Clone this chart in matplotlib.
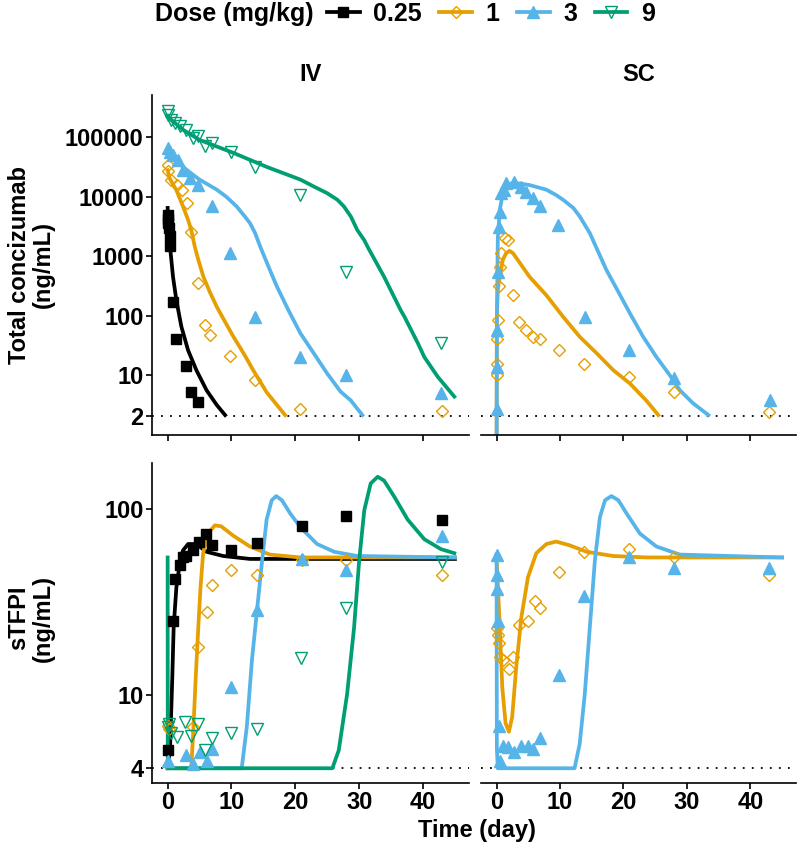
import matplotlib
matplotlib.use("Agg")
import matplotlib.pyplot as plt
from matplotlib.lines import Line2D

# ---- dose groups ----
doses = ["0.25", "1", "3", "9"]
dose_colors = ["#000000", "#E69F00", "#56B4E9", "#009E73"]
dose_markers = ["s", "D", "^", "v"]
dose_filled = [True, False, True, False]

# ---- total concizumab, IV, observed ----
iv_c_t_025 = [0.0, 0.05, 0.1, 0.2, 0.3, 0.4, 0.85, 1.25, 2.8, 3.7, 4.8]
iv_c_y_025 = [5000, 4200, 3600, 3000, 2200, 1500, 170, 41, 14, 5.2, 3.5]
iv_c_t_1 = [0.0, 0.05, 0.6, 1.4, 2.2, 3.0, 3.7, 4.8, 5.8, 6.6, 9.8, 13.7, 20.8, 43]
iv_c_y_1 = [35000, 27000, 19000, 16000, 13000, 7800, 2600, 350, 69, 47, 21, 8.1, 2.7, 2.5]
iv_c_t_3 = [0.0, 0.3, 0.85, 1.6, 2.4, 3.5, 4.8, 6.9, 9.8, 13.7, 20.8, 27.9, 42.8]
iv_c_y_3 = [66000, 58000, 51000, 42000, 28000, 20600, 15800, 6900, 1120, 95, 20, 9.9, 4.9]
iv_c_t_9 = [0.0, 0.05, 0.6, 1.1, 1.9, 2.9, 4.0, 4.8, 5.8, 6.9, 10, 13.7, 20.8, 27.9, 42.8]
iv_c_y_9 = [275000, 240000, 200000, 175000, 155000, 136000, 98000, 105000, 71000,
            81000, 58000, 32000, 10700, 550, 34]

# ---- total concizumab, IV, model ----
iv_cf_t_025 = [0.0, 0.05, 0.42, 0.84, 1.37, 2.15, 3.2, 4.5, 6.1, 7.7, 9.0]
iv_cf_y_025 = [6500, 2750, 1290, 450, 180, 65, 26, 12, 5.5, 3.1, 2.1]
iv_cf_t_1 = [0.0, 0.31, 0.8, 1.37, 2.4, 3.2, 3.7, 4.25, 4.8, 5.6, 6.6, 7.7, 9.0, 10.3,
             11.9, 13.4, 15.5, 18.4]
iv_cf_y_1 = [28000, 20600, 16500, 13000, 6900, 4100, 2750, 1450, 870, 450, 250, 140, 78,
             44, 23, 12, 5.1, 2.1]
iv_cf_t_3 = [0.0, 0.84, 2.4, 4.0, 5.0, 7.7, 9.2, 10.8, 12.1, 12.9, 13.7, 14.5, 15.8, 17.1,
             18.9, 20.8, 22.9, 25.0, 27.1, 28.7, 30.5]
iv_cf_y_3 = [62000, 45000, 32000, 23400, 19500, 13200, 10000, 6900, 4650, 3600, 2450, 1450,
             665, 310, 124, 50, 23, 10.5, 5.2, 3.7, 2.1]
iv_cf_t_9 = [0.0, 2.4, 5.0, 10.3, 15.5, 20.8, 22.9, 25.0, 26.6, 27.6, 28.7, 29.7, 30.8,
             31.3, 33.9, 36.5, 37.1, 39.2, 40.2, 42.3, 44.9]
iv_cf_y_9 = [224000, 135000, 91000, 55000, 32000, 19500, 14900, 11500, 8900, 6900, 4650,
             2760, 1860, 1450, 450, 123, 95, 34, 20, 9.3, 4.3]

# ---- total concizumab, SC, observed ----
sc_c_t_1 = [0.02, 0.04, 0.08, 0.17, 0.33, 0.5, 0.75, 1.3, 1.8, 2.6, 3.6, 4.7, 5.7, 6.8,
            9.8, 13.8, 20.9, 27.9, 42.9]
sc_c_y_1 = [9.9, 15.5, 41, 83, 310, 660, 1120, 2000, 1900, 221, 78, 57, 44, 41, 26, 15,
            9.1, 5.2, 2.4]
sc_c_t_3 = [0.02, 0.04, 0.08, 0.17, 0.33, 0.5, 0.75, 1.2, 1.5, 2.8, 3.9, 4.7, 5.7, 6.8,
            9.7, 13.9, 20.9, 27.9, 43.1]
sc_c_y_3 = [2.7, 13.6, 57, 550, 3160, 5600, 11500, 13000, 17000, 18000, 14800, 12300,
            9500, 6900, 3400, 95, 26, 8.7, 3.7]

# ---- total concizumab, SC, model ----
sc_cf_t_1 = [0.0, 0.05, 0.2, 0.5, 1.0, 1.5, 2.05, 2.6, 5.2, 7.85, 10.5, 13.1, 15.8, 18.4,
             21.0, 23.6, 25.5]
sc_cf_y_1 = [0.3, 95, 270, 450, 870, 1120, 1230, 1120, 450, 220, 95, 44, 23, 12, 7.2,
             3.7, 2.1]
sc_cf_t_3 = [0.0, 0.05, 0.2, 0.5, 1.0, 1.8, 2.6, 5.2, 7.85, 9.4, 10.5, 12.1, 13.1, 14.7,
             16.0, 17.3, 19.2, 21.0, 23.1, 25.2, 27.3, 28.9, 31.0, 33.4]
sc_cf_y_3 = [0.1, 74, 2000, 6000, 11500, 15800, 17400, 15800, 13200, 10700, 8900, 6500,
             4700, 2450, 1200, 590, 250, 110, 44, 20, 9.9, 5.5, 3.3, 2.1]

# ---- sTFPI, IV, observed ----
iv_s_t_025 = [0.05, 0.85, 1.1, 1.9, 2.4, 2.9, 4.0, 4.9, 6.0, 6.9, 10, 14, 21, 28, 43]
iv_s_y_025 = [5.0, 25, 42, 50, 55, 56, 60, 67, 74, 64, 60, 66, 81, 92, 88]
iv_s_t_1 = [0.0, 0.2, 4.0, 4.8, 6.1, 6.9, 9.9, 14, 21, 28, 43]
iv_s_y_1 = [6.8, 6.5, 6.7, 18, 28, 39, 47, 44, 53, 53, 44]
iv_s_t_3 = [0.05, 2.8, 3.9, 5.0, 6.1, 7.0, 10, 14, 21, 28, 43]
iv_s_y_3 = [4.4, 4.7, 4.2, 4.9, 4.4, 5.1, 11, 28.6, 54, 47, 72]
iv_s_t_9 = [0.0, 0.2, 0.5, 1.4, 2.7, 3.7, 4.8, 5.8, 6.9, 10, 14, 20.9, 27.9, 42.9]
iv_s_y_9 = [6.7, 6.9, 6.2, 5.9, 7.1, 6.0, 6.9, 5.0, 5.8, 6.2, 6.5, 15.7, 29.5, 52]

# ---- sTFPI, IV, model ----
iv_sf_t_025 = [0.0, 0.05, 0.4, 0.73, 0.94, 1.37, 1.9, 2.4, 3.2, 4.5, 6.1, 8.7, 12.9, 20.8, 45]
iv_sf_y_025 = [4, 4, 5.4, 12.4, 23, 38, 51, 60, 65, 65, 59, 56, 54, 54, 54]
iv_sf_t_1 = [0.0, 3.7, 4.0, 4.4, 4.8, 5.15, 5.56, 6.3, 7.4, 8.4, 10.3, 12.9, 16, 20.8, 45]
iv_sf_y_1 = [4, 4, 6.2, 12.4, 23, 38, 58, 74, 82, 81, 72, 63, 57, 55, 55]
iv_sf_t_3 = [0.0, 11.6, 12.4, 13.2, 14.0, 14.8, 15.5, 16.3, 17.0, 17.9, 19.2, 20.8, 23.4,
             26.1, 29.7, 45]
iv_sf_y_3 = [4, 4, 6.7, 15.3, 28.6, 53, 88, 112, 118, 112, 95, 80, 65, 59, 56, 55]
iv_sf_t_9 = [0.0, 0.02, 25.8, 26.8, 28.1, 29.2, 30.0, 30.8, 31.8, 32.9, 33.9, 35.5, 37.6,
             40.2, 42.8, 44.9]
iv_sf_y_9 = [55, 4, 4, 5, 10, 23, 53, 99, 138, 150, 143, 117, 88, 69, 61, 58]

# ---- sTFPI, SC, observed ----
sc_s_t_1 = [0.02, 0.2, 0.36, 0.6, 1.0, 1.95, 2.6, 3.6, 5.0, 6.0, 6.8, 9.85, 13.8, 20.9,
            27.9, 42.9]
sc_s_y_1 = [23, 21, 19, 16, 15.3, 13.8, 16, 23.7, 25, 32, 29.5, 46, 59, 61, 55, 44]
sc_s_t_3 = [0.0, 0.04, 0.08, 0.17, 0.33, 0.5, 1.0, 1.8, 2.8, 3.9, 5.0, 5.7, 6.9, 9.9,
            13.8, 20.9, 27.9, 42.9]
sc_s_y_3 = [57, 44, 37, 25, 6.8, 4.4, 5.3, 5.2, 4.9, 5.3, 5.3, 5.1, 5.8, 12.7, 34, 55, 48, 48]

# ---- sTFPI, SC, model ----
sc_sf_t_1 = [0.0, 0.47, 0.9, 1.42, 1.95, 2.47, 3.1, 3.9, 4.95, 6.27, 7.85, 9.4, 11.5, 14.2,
             18.4, 23.6, 45]
sc_sf_y_1 = [55, 25, 11, 7.0, 6.3, 7.6, 14, 26, 43, 58, 65, 67, 64, 59, 56, 55, 55]
sc_sf_t_3 = [0.0, 0.05, 0.2, 12.3, 13.1, 13.9, 14.7, 15.5, 16.3, 17.1, 18.1, 19.2, 20.5,
             22.6, 25.2, 28.9, 45]
sc_sf_y_3 = [57, 5.1, 4, 4, 5.4, 10, 23, 53, 91, 112, 118, 112, 95, 74, 63, 57, 55]

conc_ticks = [2, 10, 100, 1000, 10000, 100000]
stfpi_ticks = [4, 10, 100]
x_ticks = [0, 10, 20, 30, 40]

plt.rcParams["font.family"] = ["Liberation Sans", "DejaVu Sans"]
plt.rcParams["font.weight"] = "bold"
FS = 17
LEG_FS = 18


def marker_size(m):
    if m == "s":
        return 7.5
    if m == "D":
        return 6.5
    return 8.5


def style_axis(ax, show_y, show_xlabels, yticks):
    ax.set_xlim(-2.45, 47.2)
    ax.set_xticks(x_ticks)
    ax.spines["top"].set_visible(False)
    ax.spines["right"].set_visible(False)
    ax.spines["bottom"].set_linewidth(1.2)
    ax.spines["left"].set_linewidth(1.2)
    ax.tick_params(direction="out", length=4, width=1.2, labelsize=FS, pad=2)
    ax.set_yticks(yticks)
    ax.set_yticklabels([str(t) for t in yticks])
    ax.minorticks_off()
    if not show_y:
        ax.spines["left"].set_visible(False)
        ax.tick_params(axis="y", left=False, labelleft=False)
    if not show_xlabels:
        ax.tick_params(axis="x", labelbottom=False)
    for lab in ax.get_xticklabels() + ax.get_yticklabels():
        lab.set_fontweight("bold")


def draw(ax, fits, obs):
    for i, (t, y) in enumerate(fits):
        if t is None:
            continue
        ax.plot(t, y, color=dose_colors[i], lw=2.7, solid_joinstyle="round", zorder=2 + i * 0.1)
    for i, (t, y) in enumerate(obs):
        if t is None:
            continue
        face = dose_colors[i] if dose_filled[i] else "none"
        ax.plot(t, y, ls="none", marker=dose_markers[i], ms=marker_size(dose_markers[i]),
                mfc=face, mec=dose_colors[i], mew=1.0, zorder=3 + i * 0.1)


fig = plt.figure(figsize=(8, 8.5), dpi=100)
W, H = 800.0, 850.0
ax_tl = fig.add_axes([152 / W, 1 - 435 / H, 317 / W, 340 / H])
ax_tr = fig.add_axes([481 / W, 1 - 435 / H, 315 / W, 340 / H])
ax_bl = fig.add_axes([152 / W, 1 - 783 / H, 317 / W, 320 / H])
ax_br = fig.add_axes([481 / W, 1 - 783 / H, 315 / W, 320 / H])

draw(ax_tl,
     [(iv_cf_t_025, iv_cf_y_025), (iv_cf_t_1, iv_cf_y_1), (iv_cf_t_3, iv_cf_y_3), (iv_cf_t_9, iv_cf_y_9)],
     [(iv_c_t_025, iv_c_y_025), (iv_c_t_1, iv_c_y_1), (iv_c_t_3, iv_c_y_3), (iv_c_t_9, iv_c_y_9)])
draw(ax_tr,
     [(None, None), (sc_cf_t_1, sc_cf_y_1), (sc_cf_t_3, sc_cf_y_3), (None, None)],
     [(None, None), (sc_c_t_1, sc_c_y_1), (sc_c_t_3, sc_c_y_3), (None, None)])
draw(ax_bl,
     [(iv_sf_t_025, iv_sf_y_025), (iv_sf_t_1, iv_sf_y_1), (iv_sf_t_3, iv_sf_y_3), (iv_sf_t_9, iv_sf_y_9)],
     [(iv_s_t_025, iv_s_y_025), (iv_s_t_1, iv_s_y_1), (iv_s_t_3, iv_s_y_3), (iv_s_t_9, iv_s_y_9)])
draw(ax_br,
     [(None, None), (sc_sf_t_1, sc_sf_y_1), (sc_sf_t_3, sc_sf_y_3), (None, None)],
     [(None, None), (sc_s_t_1, sc_s_y_1), (sc_s_t_3, sc_s_y_3), (None, None)])

for ax in (ax_tl, ax_tr):
    ax.set_yscale("log")
    ax.set_ylim(0.97, 5.2e5)
    ax.axhline(2, color="black", lw=1.3, ls=(0, (1, 4)), zorder=1)
for ax in (ax_bl, ax_br):
    ax.set_yscale("log")
    ax.set_ylim(3.33, 178)
    ax.axhline(4, color="black", lw=1.3, ls=(0, (1, 4)), zorder=1)

style_axis(ax_tl, True, False, conc_ticks)
style_axis(ax_tr, False, False, conc_ticks)
style_axis(ax_bl, True, True, stfpi_ticks)
style_axis(ax_br, False, True, stfpi_ticks)

ax_tl.text(0.5, 1.06, "IV", transform=ax_tl.transAxes, ha="center", va="center",
           fontsize=FS, fontweight="bold")
ax_tr.text(0.5, 1.06, "SC", transform=ax_tr.transAxes, ha="center", va="center",
           fontsize=FS, fontweight="bold")

fig.text(31 / W, 1 - 265 / H, "Total concizumab\n(ng/mL)", rotation=90, ha="center",
         va="center", fontsize=FS, fontweight="bold", linespacing=1.05)
fig.text(31 / W, 1 - 618 / H, "sTFPI\n(ng/mL)", rotation=90, ha="center",
         va="center", fontsize=FS, fontweight="bold", linespacing=1.05)
fig.text(477 / W, 1 - 831 / H, "Time (day)", ha="center", va="center",
         fontsize=FS, fontweight="bold")

# legend across the top
fig.text(155 / W, 1 - 14 / H, "Dose (mg/kg)", ha="left", va="center",
         fontsize=LEG_FS, fontweight="bold")
handles = []
for i in range(4):
    face = dose_colors[i] if dose_filled[i] else "none"
    handles.append(Line2D([], [], color=dose_colors[i], lw=2.7, marker=dose_markers[i],
                          ms=marker_size(dose_markers[i]), mfc=face, mec=dose_colors[i],
                          mew=1.0))
leg = fig.legend(handles, doses, loc="center left", bbox_to_anchor=(327 / W, 1 - 14 / H),
                 ncol=4, frameon=False, fontsize=LEG_FS, handlelength=1.3,
                 handletextpad=0.55, columnspacing=0.7, borderaxespad=0, borderpad=0)
for txt in leg.get_texts():
    txt.set_fontweight("bold")

fig.savefig("out.png", dpi=100)
